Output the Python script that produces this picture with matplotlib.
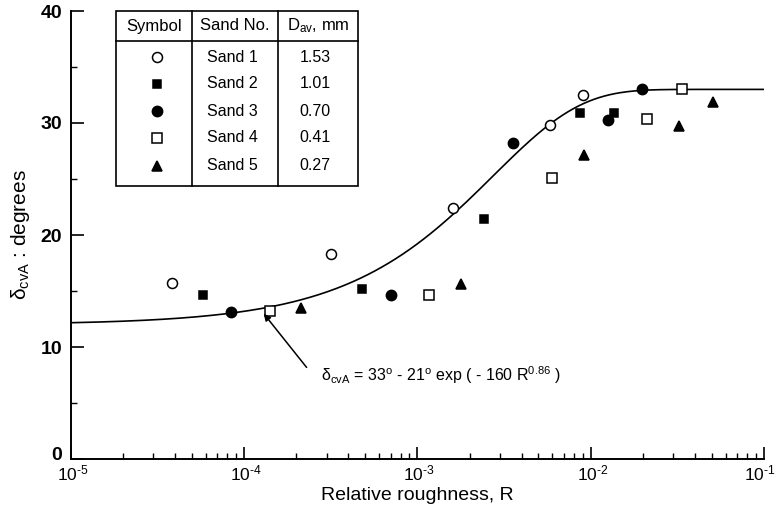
import numpy as np
import matplotlib.pyplot as plt
from matplotlib.lines import Line2D
from matplotlib.patches import Rectangle
import matplotlib.transforms as mtransforms

plt.rcParams['font.family'] = ['Liberation Sans', 'DejaVu Sans']
plt.rcParams['mathtext.fontset'] = 'custom'
plt.rcParams['mathtext.rm'] = 'Liberation Sans'
plt.rcParams['mathtext.it'] = 'Liberation Sans'
plt.rcParams['mathtext.bf'] = 'Liberation Sans:bold'

# --- data ---
sand_names = ["Sand 1", "Sand 2", "Sand 3", "Sand 4", "Sand 5"]
d_av = ["1.53", "1.01", "0.70", "0.41", "0.27"]

sand1_R = [3.83e-5, 3.16e-4, 1.61e-3, 5.81e-3, 9.04e-3]
sand1_d = [15.7, 18.3, 22.4, 29.8, 32.5]
sand2_R = [5.82e-5, 4.80e-4, 2.43e-3, 8.73e-3, 1.36e-2]
sand2_d = [14.6, 15.2, 21.4, 30.9, 30.9]
sand3_R = [8.41e-5, 7.03e-4, 3.58e-3, 1.26e-2, 1.99e-2]
sand3_d = [13.1, 14.6, 28.2, 30.3, 33.0]
sand4_R = [1.41e-4, 1.17e-3, 5.98e-3, 2.12e-2, 3.37e-2]
sand4_d = [13.2, 14.6, 25.1, 30.4, 33.0]
sand5_R = [2.14e-4, 1.79e-3, 9.16e-3, 3.25e-2, 5.10e-2]
sand5_d = [13.5, 15.6, 27.1, 29.7, 31.9]

xtick_vals = [1e-5, 1e-4, 1e-3, 1e-2, 1e-1]
xtick_exps = ["5", "4", "3", "2", "1"]
ytick_vals = [0, 10, 20, 30, 40]

# fitted curve given on the chart: d = 33 - 21 exp(-160 R^0.86)
R_fit = np.logspace(-5, -1, 400)
d_fit = 33 - 21 * np.exp(-160 * R_fit ** 0.86)
R_arrow = 1.3e-4

series = [
    (sand1_R, sand1_d, dict(marker="o", mfc="white", ms=7.2)),
    (sand2_R, sand2_d, dict(marker="s", mfc="black", ms=6.4)),
    (sand3_R, sand3_d, dict(marker="o", mfc="black", ms=7.4)),
    (sand4_R, sand4_d, dict(marker="s", mfc="white", ms=6.6)),
    (sand5_R, sand5_d, dict(marker="^", mfc="black", ms=7.4)),
]

W, H = 779, 531
fig = plt.figure(figsize=(W / 100, H / 100), dpi=100)
ax = fig.add_axes([70.7 / W, 1 - 459 / H, (764 - 70.7) / W, (459 - 11) / H])

ax.plot(R_fit, d_fit, color="black", lw=1.2, zorder=2)
for R, d, st in series:
    ax.plot(R, d, ls="none", mec="black", mew=1.1, color="black", zorder=3, **st)

ax.set_xscale("log")
ax.set_xlim(1e-5, 1e-1)
ax.set_ylim(0, 40)
ax.set_xticks(xtick_vals)
# hyphen (U+2010) keeps the short dash of the original exponent
ax.set_xticklabels(["10$^{\\mathrm{\u2010" + e + "}}$" for e in xtick_exps])
ax.set_yticks(ytick_vals)
ax.set_yticks([5, 15, 25, 35], minor=True)
ax.tick_params(which="major", direction="in", length=9, width=1.2, pad=6)
ax.tick_params(which="minor", direction="in", length=4.5, width=1.0)
ax.tick_params(axis="x", which="major", pad=3, labelsize=12.5)
ax.tick_params(axis="y", which="major", labelsize=14)
for lbl in ax.get_yticklabels():
    lbl.set_fontweight("bold")
# the "0" sits a little above the corner so it clears 10^-5
ylbls = ax.get_yticklabels()
ylbls[0].set_transform(ylbls[0].get_transform() +
                       mtransforms.ScaledTranslation(0, 6 / 100, fig.dpi_scale_trans))
# nudge x labels so the "10" sits on the tick; keep the last one inside the figure
xlbls = ax.get_xticklabels()
for i, lbl in enumerate(xlbls):
    dx = -4 if i == len(xlbls) - 1 else 2
    lbl.set_transform(lbl.get_transform() +
                      mtransforms.ScaledTranslation(dx / 100, 0, fig.dpi_scale_trans))
for s in ["top", "right"]:
    ax.spines[s].set_visible(False)
for s in ["left", "bottom"]:
    ax.spines[s].set_linewidth(1.4)

ax.set_xlabel("Relative roughness, R", fontsize=14, labelpad=3)
ax.set_ylabel(r"δ$_{\rm cvA}$ : degrees", fontsize=15, labelpad=6)

d_arrow = 33 - 21 * np.exp(-160 * R_arrow ** 0.86)
ax.annotate(r"δ$_{\rm cvA}$ = 33$^{\rm o}$ - 21$^{\rm o}$ exp ( - 160 R$^{0.86}$ )",
            xy=(R_arrow, d_arrow - 0.5), xycoords="data",
            xytext=(321 / W, 1 - 375 / H), textcoords="figure fraction",
            fontsize=11.5, va="center", ha="left",
            arrowprops=dict(arrowstyle="-|>", color="black", lw=1.1,
                            mutation_scale=10, shrinkA=0, shrinkB=0,
                            relpos=(-0.06, 0.85)))

# --- legend table ---
def fx(x):
    return x / W

def fy(y):
    return 1 - y / H

tf = fig.transFigure
fig.patches.append(Rectangle((fx(116), fy(185.7)), fx(358) - fx(116), fy(10.7) - fy(185.7),
                             transform=tf, fill=True, fc="white", ec="black", lw=1.2, zorder=5))
for xv in [192, 278]:
    fig.lines.append(Line2D([fx(xv), fx(xv)], [fy(10.7), fy(185.7)], transform=tf,
                            color="black", lw=1.2, zorder=6))
fig.lines.append(Line2D([fx(116), fx(358)], [fy(41), fy(41)], transform=tf,
                        color="black", lw=1.2, zorder=6))

fig.text(fx(154), fy(26), "Symbol", ha="center", va="center", fontsize=12, zorder=7)
fig.text(fx(235), fy(26), "Sand No.", ha="center", va="center", fontsize=12, zorder=7)
fig.text(fx(318), fy(26), r"D$_{\rm av}$, mm", ha="center", va="center", fontsize=12, zorder=7)

row_y = [57, 84, 111, 138, 166]
for (R, d, st), name, dv, yv in zip(series, sand_names, d_av, row_y):
    fig.lines.append(Line2D([fx(156.7)], [fy(yv)], transform=tf, ls="none",
                            mec="black", mew=1.1, color="black", zorder=7, **st))
    fig.text(fx(232), fy(yv), name, ha="center", va="center", fontsize=11.5, zorder=7)
    fig.text(fx(315), fy(yv), dv, ha="center", va="center", fontsize=11.5, zorder=7)

fig.savefig("out.png", dpi=100)
